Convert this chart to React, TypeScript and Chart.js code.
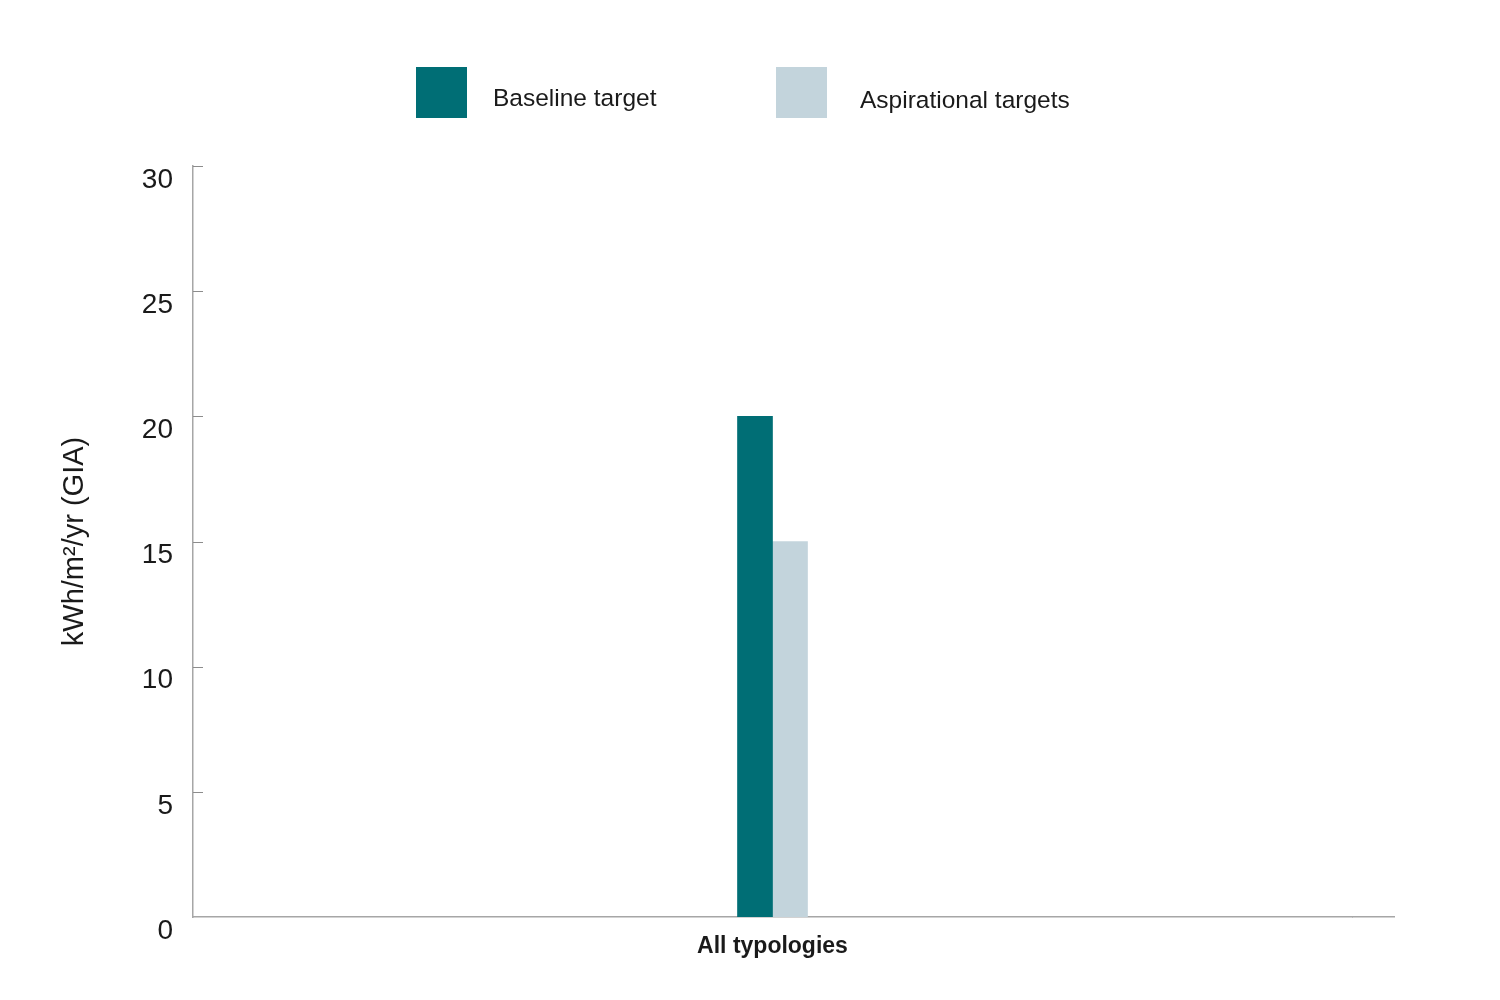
import { useEffect, useRef } from "react";
import { Chart, registerables } from "chart.js";

Chart.register(...registerables);

const categories = ["All typologies"];
const baselineTarget = [20];
const aspirationalTargets = [15];
const seriesNames = ["Baseline target", "Aspirational targets"];
const seriesColors = ["#006e75", "#c3d4dc"];

const FONT = "'Liberation Sans', Arial, Helvetica, sans-serif";
const TEXT = "#1a1a1a";
const AXIS = "#a6a6a6";
const AXIS_W = 1.5;

// short tick marks on the inner side of the y axis, plus the baseline running a bit past the plot
const axisDecor = {
  id: "axisDecor",
  afterDraw(chart: Chart) {
    const y = chart.scales.y;
    const x = chart.scales.x;
    const { ctx, chartArea } = chart;
    ctx.save();
    ctx.strokeStyle = "#8c8c8c";
    ctx.lineWidth = 1;
    y.ticks.forEach((t) => {
      if (t.value === 0) return;
      const py = Math.round(y.getPixelForValue(t.value)) + 0.5;
      ctx.beginPath();
      ctx.moveTo(chartArea.left, py);
      ctx.lineTo(chartArea.left + 10, py);
      ctx.stroke();
    });
    // same alignment chart.js uses for the axis border
    const by = Math.round(x.top - AXIS_W / 2) + AXIS_W / 2;
    ctx.strokeStyle = AXIS;
    ctx.lineWidth = AXIS_W;
    ctx.beginPath();
    ctx.moveTo(chartArea.right, by);
    ctx.lineTo(chartArea.right + 43, by);
    ctx.stroke();
    ctx.restore();
  },
};

function Legend() {
  const item = (i: number, left: number, gap: number, dy: number) => (
    <div
      key={i}
      style={{ position: "absolute", left, top: 67, display: "flex", alignItems: "center" }}
    >
      <div style={{ width: 51, height: 51, background: seriesColors[i] }} />
      <span
        style={{
          marginLeft: gap,
          marginTop: dy,
          fontSize: 24.5,
          color: TEXT,
          fontFamily: FONT,
        }}
      >
        {seriesNames[i]}
      </span>
    </div>
  );
  return (
    <>
      {item(0, 416, 26, 10)}
      {item(1, 776, 33, 14)}
    </>
  );
}

export default function App() {
  const canvasRef = useRef<HTMLCanvasElement>(null);

  useEffect(() => {
    if (!canvasRef.current) return;
    const chart = new Chart(canvasRef.current, {
      type: "bar",
      data: {
        labels: categories,
        datasets: [
          {
            label: seriesNames[0],
            data: baselineTarget,
            backgroundColor: seriesColors[0],
            barThickness: 35,
          },
          {
            label: seriesNames[1],
            data: aspirationalTargets,
            backgroundColor: seriesColors[1],
            barThickness: 35,
          },
        ],
      },
      options: {
        animation: false,
        responsive: false,
        layout: { padding: { top: 166, left: 40, right: 148, bottom: 0 } },
        plugins: {
          legend: { display: false },
          tooltip: { enabled: false },
        },
        scales: {
          x: {
            grid: { display: false, drawTicks: false },
            border: { display: true, color: AXIS, width: AXIS_W },
            ticks: {
              padding: 16,
              color: TEXT,
              font: { family: FONT, size: 23, weight: "bold" },
            },
            afterFit(scale) {
              scale.height = 83;
            },
          },
          y: {
            min: 0,
            max: 30,
            grid: { display: false, drawTicks: false },
            border: { display: true, color: AXIS, width: AXIS_W },
            ticks: {
              stepSize: 5,
              padding: 20,
              labelOffset: 14,
              color: TEXT,
              font: { family: FONT, size: 28 },
            },
            title: {
              display: true,
              text: "kWh/m²/yr (GIA)",
              color: TEXT,
              font: { family: FONT, size: 29 },
              padding: { top: 18, bottom: 0 },
            },
            afterFit(scale) {
              scale.width = 153;
            },
          },
        },
      },
      plugins: [axisDecor],
    });
    return () => chart.destroy();
  }, []);

  return (
    <div style={{ position: "absolute", left: 0, top: 0, width: 1500, height: 1000, background: "#fff" }}>
      <Legend />
      <canvas ref={canvasRef} width={1500} height={1000} style={{ width: 1500, height: 1000 }} />
    </div>
  );
}
